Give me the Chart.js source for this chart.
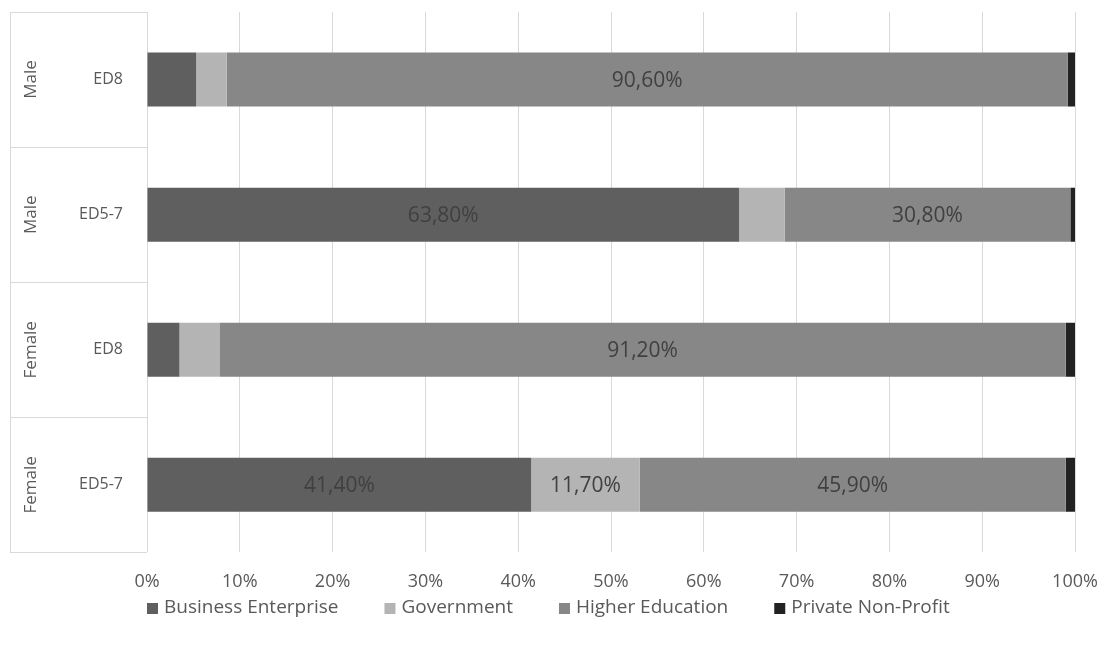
<!DOCTYPE html>
<html>
<head>
<meta charset="utf-8">
<script src="https://cdn.jsdelivr.net/npm/chart.js@4/dist/chart.umd.min.js"></script>
<style>
  html, body { margin: 0; padding: 0; background: #fff; }
  #wrap { width: 1105px; height: 648px; }
</style>
</head>
<body>
<div id="wrap"><canvas id="chartCanvas" width="1105" height="648"></canvas></div>
<script>
// categories, top to bottom
const groups = ['Male', 'Male', 'Female', 'Female'];
const levels = ['ED8', 'ED5-7', 'ED8', 'ED5-7'];

// shares in percent
const businessEnterprise = [5.3, 63.8, 3.5, 41.4];
const government = [3.3, 4.9, 4.3, 11.7];
const higherEducation = [90.6, 30.8, 91.2, 45.9];
const privateNonProfit = [0.8, 0.5, 1.0, 1.0];

const xTicks = [0, 10, 20, 30, 40, 50, 60, 70, 80, 90, 100];

const FONT = '"Open Sans", "DejaVu Sans", sans-serif';
const gridColor = '#d9d9d9';
const textColor = '#595959';

// data labels on the big segments, Excel style "90,60%"
const segmentLabels = {
    id: 'segmentLabels',
    afterDatasetsDraw(chart) {
        const ctx = chart.ctx;
        ctx.save();
        ctx.font = '21px ' + FONT;
        ctx.fillStyle = '#404040';
        ctx.textAlign = 'center';
        ctx.textBaseline = 'middle';
        chart.data.datasets.forEach((ds, i) => {
            chart.getDatasetMeta(i).data.forEach((bar, j) => {
                const v = ds.data[j];
                if (v < 10) return;
                const p = bar.getProps(['x', 'y', 'base'], true);
                ctx.fillText(v.toFixed(2).replace('.', ',') + '%', (p.x + p.base) / 2, p.y + 1);
            });
        });
        ctx.restore();
    }
};

// two-level category axis on the left with separator lines
const groupAxis = {
    id: 'groupAxis',
    afterDraw(chart) {
        const ctx = chart.ctx;
        const y = chart.scales.y;
        const area = chart.chartArea;
        const left = 10;
        const step = y.getPixelForValue(1) - y.getPixelForValue(0);
        ctx.save();
        ctx.strokeStyle = gridColor;
        ctx.lineWidth = 1;
        const bounds = [];
        for (let i = 0; i <= levels.length; i++) {
            bounds.push(Math.round(y.getPixelForValue(i) - step / 2) + 0.5);
        }
        bounds.forEach(b => {
            ctx.beginPath();
            ctx.moveTo(left, b);
            ctx.lineTo(area.left, b);
            ctx.stroke();
        });
        ctx.beginPath();
        ctx.moveTo(left + 0.5, bounds[0]);
        ctx.lineTo(left + 0.5, bounds[bounds.length - 1]);
        ctx.stroke();

        ctx.fillStyle = textColor;
        ctx.textBaseline = 'middle';
        levels.forEach((lab, i) => {
            const cy = y.getPixelForValue(i);
            ctx.font = '16px ' + FONT;
            ctx.textAlign = 'right';
            ctx.fillText(lab, 123, cy);
            ctx.save();
            ctx.font = '17px ' + FONT;
            ctx.translate(31, cy);
            ctx.rotate(-Math.PI / 2);
            ctx.textAlign = 'center';
            ctx.fillText(groups[i], 0, 0);
            ctx.restore();
        });
        ctx.restore();
    }
};

// legend row under the axis
const bottomLegend = {
    id: 'bottomLegend',
    afterDraw(chart) {
        const ctx = chart.ctx;
        const cy = 608;
        ctx.save();
        ctx.font = '19px ' + FONT;
        ctx.textBaseline = 'middle';
        ctx.textAlign = 'left';
        let x = chart.chartArea.left;
        chart.data.datasets.forEach(ds => {
            ctx.fillStyle = ds.backgroundColor;
            ctx.fillRect(x, cy - 5, 11, 11);
            ctx.fillStyle = textColor;
            ctx.fillText(ds.label, x + 17, cy);
            x += 17 + ctx.measureText(ds.label).width + 46;
        });
        ctx.restore();
    }
};

new Chart(document.getElementById('chartCanvas'), {
    type: 'bar',
    data: {
        labels: levels.map((l, i) => groups[i] + ' ' + l),
        datasets: [
            { label: 'Business Enterprise', data: businessEnterprise, backgroundColor: '#5f5f5f' },
            { label: 'Government', data: government, backgroundColor: '#b4b4b4' },
            { label: 'Higher Education', data: higherEducation, backgroundColor: '#878787' },
            { label: 'Private Non-Profit', data: privateNonProfit, backgroundColor: '#222222' }
        ]
    },
    options: {
        indexAxis: 'y',
        responsive: false,
        animation: false,
        devicePixelRatio: 1,
        layout: { padding: { left: 10, right: 30, top: 12, bottom: 36 } },
        datasets: { bar: { categoryPercentage: 1, barPercentage: 0.4, borderWidth: 0 } },
        scales: {
            x: {
                stacked: true,
                min: 0,
                max: 100,
                afterBuildTicks: scale => { scale.ticks = xTicks.map(v => ({ value: v })); },
                afterFit: scale => { scale.paddingLeft = 0; scale.paddingRight = 0; },
                ticks: {
                    callback: v => v + '%',
                    color: textColor,
                    font: { family: FONT, size: 18 },
                    padding: 19,
                    maxRotation: 0
                },
                grid: { color: gridColor, lineWidth: 1, drawTicks: false },
                border: { display: false }
            },
            y: {
                stacked: true,
                ticks: { display: false },
                grid: { display: false },
                border: { display: false },
                afterFit: scale => { scale.width = 137; }
            }
        },
        plugins: {
            legend: { display: false },
            tooltip: { enabled: false }
        }
    },
    plugins: [segmentLabels, groupAxis, bottomLegend]
});
</script>
</body>
</html>
